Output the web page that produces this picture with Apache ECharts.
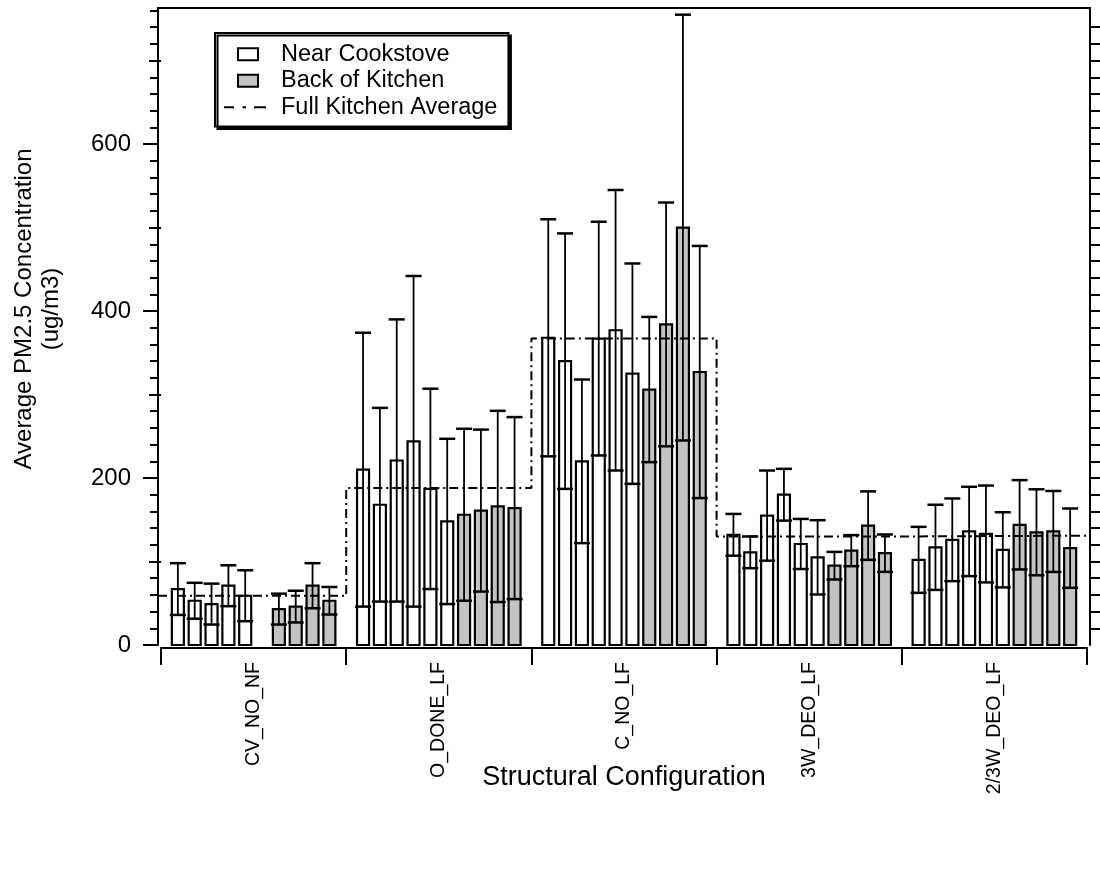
<!DOCTYPE html>
<html>
<head>
<meta charset="utf-8">
<script src="https://cdn.jsdelivr.net/npm/echarts@6/dist/echarts.min.js"></script>
<style>
html,body{margin:0;padding:0;background:#fff;}
#c{width:1100px;height:875px;}
</style>
</head>
<body>
<div id="c"></div>
<script>
// ---------------- data ----------------
const groups = ['CV_NO_NF', 'O_DONE_LF', 'C_NO_LF', '3W_DEO_LF', '2/3W_DEO_LF'];

// Near Cookstove: mean and standard deviation (6 slots per group, null = no data)
const nearMean = [
  [67, 53, 49, 71, 59, null],
  [210, 168, 221, 244, 187, 148],
  [368, 340, 220, 367, 377, 325],
  [132, 111, 155, 180, 121, 105],
  [102, 117, 126, 136, 133, 114]
];
const nearSd = [
  [31, 21.5, 24.5, 24.5, 30.5, null],
  [164, 116, 169, 198, 120, 99],
  [142, 153, 98, 140, 168, 132],
  [25, 19, 54, 31, 30, 44.5],
  [39.5, 51, 49.5, 53.5, 58, 45]
];

// Back of Kitchen: mean and standard deviation (4 slots per group)
const backMean = [
  [43, 46, 71, 53],
  [156, 161, 166, 164],
  [306, 384, 500, 327],
  [95, 113, 143, 110],
  [144, 135, 136, 116]
];
const backSd = [
  [18.5, 19, 27, 16.5],
  [103, 97, 114.5, 109],
  [87, 146, 255, 151],
  [16.5, 18.6, 41, 22.4],
  [53.5, 51.5, 48.5, 47.5]
];

// Full Kitchen Average per configuration
const kitchenAvg = [59, 188, 367, 130, 131];

// tick values
const yLabelTicks = [0, 200, 400, 600];
const yMidTicks = [100, 300, 500, 700];
const rightTicks = [20,40,60,80,100,120,140,160,180,200,220,240,260,280,300,320,340,360,380,400,
  420,440,460,480,500,520,540,560,580,600,620,640,660,680,700,720,740];

// ---------------- layout helpers ----------------
const SLOTS = 11;            // positions per configuration block
const NEAR_SLOTS = 6;
const X_MIN = -0.18, X_MAX = 55.18;
const Y_MAX = 763;

const nearData = [], backData = [];
groups.forEach((g, gi) => {
  nearMean[gi].forEach((m, k) => {
    if (m != null) nearData.push([gi * SLOTS + k + 1, m, nearSd[gi][k]]);
  });
  backMean[gi].forEach((m, k) => {
    backData.push([gi * SLOTS + NEAR_SLOTS + k + 1, m, backSd[gi][k]]);
  });
});

const avgLine = [];
kitchenAvg.forEach((v, gi) => {
  avgLine.push([gi === 0 ? X_MIN : gi * SLOTS, v]);
  avgLine.push([gi === kitchenAvg.length - 1 ? X_MAX : (gi + 1) * SLOTS, v]);
});

function makeRender(fill) {
  return function (params, api) {
    const x = api.value(0), m = api.value(1), sd = api.value(2);
    const p0 = api.coord([x, 0]);
    const pt = api.coord([x, m]);
    const ph = api.coord([x, m + sd]);
    const pl = api.coord([x, m - sd]);
    const bw = 12, cw = 16;
    return {
      type: 'group',
      children: [
        { type: 'rect', shape: { x: p0[0] - bw / 2, y: pt[1], width: bw, height: p0[1] - pt[1] },
          style: { fill: fill, stroke: '#000', lineWidth: 2.2 } },
        { type: 'line', shape: { x1: p0[0], y1: pl[1], x2: p0[0], y2: ph[1] },
          style: { stroke: '#000', lineWidth: 1.8 } },
        { type: 'line', shape: { x1: p0[0] - cw / 2, y1: ph[1], x2: p0[0] + cw / 2, y2: ph[1] },
          style: { stroke: '#000', lineWidth: 2.5 } },
        { type: 'line', shape: { x1: p0[0] - cw / 2, y1: pl[1], x2: p0[0] + cw / 2, y2: pl[1] },
          style: { stroke: '#000', lineWidth: 2.5 } }
      ]
    };
  };
}

const FONT = '"Liberation Sans", Arial, sans-serif';
const rectIcon = 'path://M0,0M52,12M14,0L34,0L34,12L14,12Z';
const dashIcon = 'path://M0,0M52,12M0,5L10,5L10,7L0,7Z M18.5,5L22,5L22,7L18.5,7Z M30,5L42,5L42,7L30,7Z';
const axisLineStyle = { color: '#000', width: 2 };

const chart = echarts.init(document.getElementById('c'), null, { renderer: 'canvas' });
chart.setOption({
  animation: false,
  backgroundColor: '#fff',
  textStyle: { fontFamily: FONT, color: '#000' },
  grid: [
    { left: 158, right: 10, top: 8, bottom: 230, outerBoundsMode: 'none', containLabel: false },
    { left: 161, right: 13, top: 8, bottom: 227, outerBoundsMode: 'none', containLabel: false }
  ],
  legend: {
    orient: 'vertical',
    left: 215, top: 33,
    padding: [8, 11, 6, 8],
    itemGap: 0, itemWidth: 52, itemHeight: 12,
    backgroundColor: '#fff',
    borderColor: '#000', borderWidth: 2, borderRadius: 0,
    shadowColor: '#000', shadowOffsetX: 2.5, shadowOffsetY: 2.5, shadowBlur: 0,
    selectedMode: false,
    textStyle: { fontSize: 23.5, color: '#000', lineHeight: 26.5, fontFamily: FONT },
    data: [
      { name: 'Near Cookstove', icon: rectIcon, itemStyle: { color: '#fff', borderColor: '#000', borderWidth: 2 } },
      { name: 'Back of Kitchen', icon: rectIcon, itemStyle: { color: '#c3c3c3', borderColor: '#000', borderWidth: 2 } },
      { name: 'Full Kitchen Average', icon: dashIcon, itemStyle: { color: '#000', borderWidth: 0 } }
    ]
  },
  xAxis: [
    { gridIndex: 0, type: 'value', min: X_MIN, max: X_MAX, position: 'top',
      axisLine: { show: true, onZero: false, lineStyle: axisLineStyle },
      axisTick: { show: false }, axisLabel: { show: false }, splitLine: { show: false } },
    { gridIndex: 1, type: 'category', data: groups, position: 'bottom', boundaryGap: true,
      axisLine: { show: true, onZero: false, lineStyle: axisLineStyle },
      axisTick: { show: true, length: 17, alignWithLabel: false, interval: 0, lineStyle: axisLineStyle },
      axisLabel: { rotate: 90, margin: 14, fontSize: 19.5, color: '#000', interval: 0, fontFamily: FONT },
      name: 'Structural Configuration', nameLocation: 'middle', nameGap: 116, nameMoveOverlap: false,
      nameTextStyle: { fontSize: 27, color: '#000', fontFamily: FONT },
      splitLine: { show: false } }
  ],
  yAxis: [
    { gridIndex: 0, type: 'value', min: 0, max: Y_MAX, interval: 200, position: 'left',
      axisLine: { show: true, onZero: false, lineStyle: axisLineStyle },
      axisTick: { show: true, length: 15, customValues: yLabelTicks, lineStyle: axisLineStyle },
      minorTick: { show: true, splitNumber: 10, length: 8, lineStyle: { color: '#000', width: 2 } },
      axisLabel: { customValues: yLabelTicks, margin: 27, fontSize: 24, color: '#000', fontFamily: FONT },
      splitLine: { show: false }, minorSplitLine: { show: false } },
    { gridIndex: 0, type: 'value', min: 0, max: Y_MAX, interval: 100, position: 'left',
      axisLine: { show: false },
      axisTick: { show: true, length: 12, customValues: yMidTicks, lineStyle: axisLineStyle },
      axisLabel: { show: false }, splitLine: { show: false } },
    { gridIndex: 0, type: 'value', min: 0, max: Y_MAX, interval: 20, position: 'right',
      axisLine: { show: true, onZero: false, lineStyle: axisLineStyle },
      axisTick: { show: true, length: 10, customValues: rightTicks, lineStyle: axisLineStyle },
      axisLabel: { show: false }, splitLine: { show: false } },
    { gridIndex: 1, type: 'value', show: false }
  ],
  graphic: [
    { type: 'text', x: 38, y: 309, rotation: Math.PI / 2,
      style: { text: 'Average PM2.5 Concentration\n(ug/m3)', font: '24px ' + FONT, fill: '#000',
        align: 'center', verticalAlign: 'middle', textAlign: 'center', textVerticalAlign: 'middle', lineHeight: 27 } }
  ],
  series: [
    { name: 'Near Cookstove', type: 'custom', xAxisIndex: 0, yAxisIndex: 0, clip: false,
      itemStyle: { color: '#fff' }, encode: { x: 0, y: 1 },
      renderItem: makeRender('#ffffff'), data: nearData, z: 2 },
    { name: 'Back of Kitchen', type: 'custom', xAxisIndex: 0, yAxisIndex: 0, clip: false,
      itemStyle: { color: '#c3c3c3' }, encode: { x: 0, y: 1 },
      renderItem: makeRender('#c3c3c3'), data: backData, z: 2 },
    { name: 'Full Kitchen Average', type: 'line', xAxisIndex: 0, yAxisIndex: 0,
      data: avgLine, symbol: 'none', silent: true, z: 5,
      lineStyle: { color: '#000', width: 2, type: [9, 4, 2, 4] }, itemStyle: { color: '#000' } }
  ]
});
</script>
</body>
</html>
